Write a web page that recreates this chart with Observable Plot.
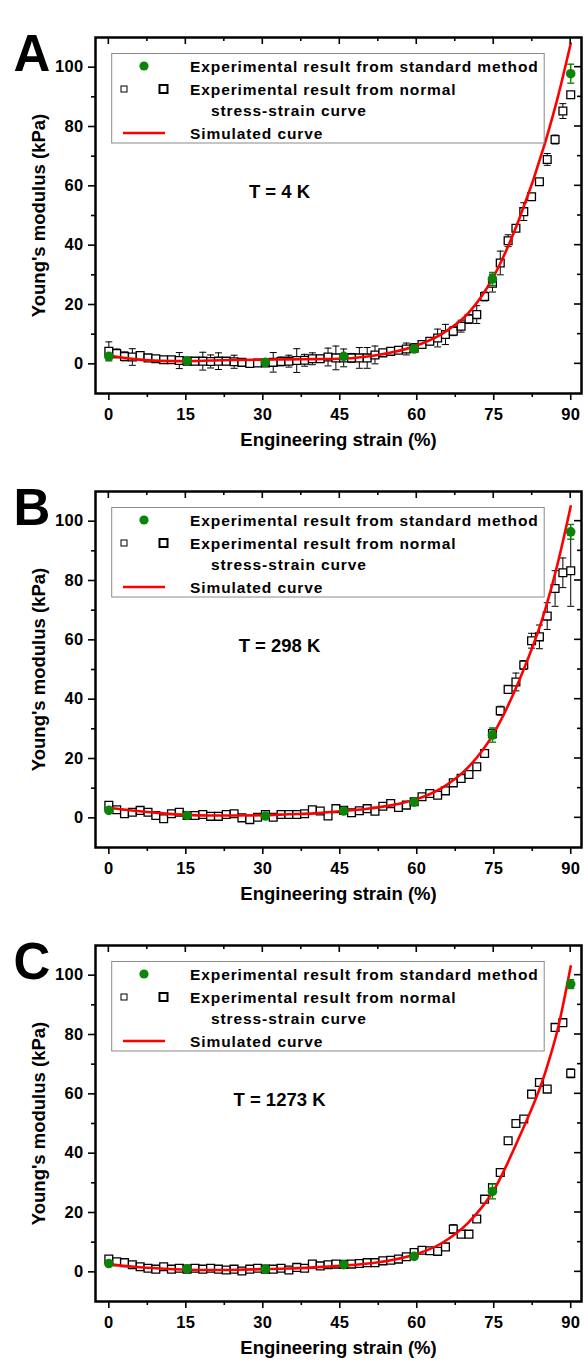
<!DOCTYPE html>
<html>
<head>
<meta charset="utf-8">
<script src="https://cdn.jsdelivr.net/npm/d3@7"></script>
<script src="https://cdn.jsdelivr.net/npm/@observablehq/plot@0.6"></script>
<style>
  html, body { margin: 0; padding: 0; background: white; }
  #charts { width: 584px; }
  #charts svg { display: block; }
  g[aria-label="x-axis tick label"], g[aria-label="y-axis tick label"] { letter-spacing: 0.3px; }
  g[aria-label="xtitle"] { letter-spacing: 1.1px; }
  g[aria-label="ytitle"] { letter-spacing: 1.3px; }
  g[aria-label="temp"] { letter-spacing: 1px; }
</style>
</head>
<body>
<div id="charts"></div>
<script>
// ---------- data ----------
const strain = [0, 1.53, 3.05, 4.58, 6.1, 7.63, 9.15, 10.68, 12.2, 13.73,
  15.25, 16.78, 18.31, 19.83, 21.36, 22.88, 24.41, 25.93, 27.46, 28.98,
  30.51, 32.03, 33.56, 35.08, 36.61, 38.14, 39.66, 41.19, 42.71, 44.24,
  45.76, 47.29, 48.81, 50.34, 51.86, 53.39, 54.92, 56.44, 57.97, 59.49,
  61.02, 62.54, 64.07, 65.59, 67.12, 68.64, 70.17, 71.69, 73.22, 74.75,
  76.27, 77.8, 79.32, 80.85, 82.37, 83.9, 85.42, 86.95, 88.47, 90];

const stdStrain = [0, 15.25, 30.51, 45.76, 59.49, 74.75, 90];
const curveStrain = [0, 5, 10, 15, 20, 25, 30, 35, 40, 45, 50, 55, 60, 65, 70, 75, 80, 85, 87.5, 90];

const xMajorTicks = [0, 15, 30, 45, 60, 75, 90];
const xMinorTicks = [7.5, 22.5, 37.5, 52.5, 67.5, 82.5];
const yMajorTicks = [0, 20, 40, 60, 80, 100];
const yMinorTicks = [10, 30, 50, 70, 90];

const panelLetters = ["A", "B", "C"];
const temperatures = ["T = 4 K", "T = 298 K", "T = 1273 K"];
const legendLabels = ["Experimental result from standard method", "Experimental result from normal", "stress-strain curve", "Simulated curve"];
const xTitle = "Engineering strain (%)";
const yTitle = "Young's modulus (kPa)";

// Panel A (T = 4 K)
const normalA = [4.2, 3.5, 2.5, 2.3, 2.8, 2.0, 1.7, 1.4, 1.4, 1.1,
  0.9, 0.9, 0.9, 0.8, 0.9, 0.9, 0.7, 0.5, 0.1, 0.3,
  0.3, 0.5, 0.8, 0.9, 1.1, 1.2, 1.7, 1.7, 2.3, 2.0,
  2.0, 2.0, 2.0, 2.0, 3.0, 3.7, 4.2, 4.6, 5.0, 5.3,
  6.5, 7.6, 8.7, 9.9, 11.0, 12.7, 15.1, 16.6, 22.7, 27.2,
  34.0, 41.5, 45.7, 51.3, 56.3, 61.4, 68.9, 75.6, 85.2, 90.7];
const normalErrA = [3.2, 1.5, 1.5, 2.8, 1.2, 0.8, 0.8, 0.8, 0.8, 2.7,
  1.0, 1.2, 3.0, 2.2, 2.8, 1.2, 2.2, 1.2, 0.8, 0.8,
  1.0, 3.3, 1.5, 2.0, 4.0, 2.0, 2.0, 1.2, 3.0, 4.0,
  3.0, 1.5, 3.5, 3.5, 3.0, 1.0, 1.0, 1.0, 2.0, 1.5,
  1.2, 1.2, 3.0, 3.4, 1.5, 2.0, 1.5, 3.0, 1.5, 3.0,
  4.0, 2.0, 1.0, 3.0, 1.0, 0.8, 2.0, 1.5, 2.5, 1.0];
const standardA = [2.5, 1.0, 0.5, 2.5, 5.0, 28.6, 97.8];
const standardErrA = [1.0, 0.5, 0.5, 0.5, 0.8, 2.2, 3.2];
const simulatedA = [2.8, 1.6, 1.0, 0.9, 1.1, 1.3, 1.4, 1.5, 1.6, 1.7, 2.4, 3.8, 6.2, 10.2, 17.0, 29.5, 49.0, 74.5, 90.0, 108.0];

// Panel B (T = 298 K)
const normalB = [4.2, 2.7, 1.4, 1.9, 2.5, 1.9, 0.8, -0.3, 1.4, 1.9,
  0.8, 0.8, 1.1, 0.5, 0.5, 1.1, 1.4, 0.0, -0.6, 0.2,
  1.1, 0.2, 1.1, 1.1, 1.1, 1.4, 2.7, 2.3, 0.6, 3.1,
  2.5, 1.7, 2.4, 3.1, 2.2, 3.9, 4.8, 3.5, 4.3, 5.4,
  7.1, 8.2, 7.6, 9.1, 11.8, 13.3, 14.6, 17.2, 21.7, 28.4,
  36.1, 43.3, 45.8, 51.5, 59.7, 61.0, 68.0, 77.3, 82.6, 83.3];
const normalErrB = [0.8, 0.6, 0.5, 0.6, 0.6, 0.5, 0.5, 0.5, 0.6, 0.6,
  0.5, 0.5, 0.5, 0.5, 0.5, 0.6, 0.6, 0.5, 0.5, 0.5,
  0.5, 0.5, 0.5, 0.5, 0.5, 0.5, 0.6, 0.6, 0.5, 0.6,
  0.6, 0.5, 0.5, 0.6, 0.5, 0.6, 0.6, 0.5, 0.6, 0.6,
  0.6, 0.6, 0.6, 0.8, 0.8, 0.8, 0.8, 0.8, 1.0, 1.5,
  1.5, 1.0, 3.0, 1.5, 2.5, 4.0, 4.5, 6.0, 5.0, 12.0];
const standardB = [2.5, 0.8, 0.6, 2.3, 5.3, 27.9, 96.4];
const standardErrB = [0.6, 0.4, 0.4, 0.5, 0.6, 2.4, 2.5];
const simulatedB = [3.4, 2.4, 1.6, 1.0, 0.8, 0.8, 0.9, 1.2, 1.5, 2.2, 3.0, 4.2, 6.3, 10.2, 17.0, 28.5, 46.5, 70.0, 86.0, 105.0];

// Panel C (T = 1273 K)
const normalC = [4.3, 3.4, 3.1, 2.4, 1.7, 1.2, 0.9, 1.7, 0.9, 1.2,
  0.9, 1.2, 0.9, 1.2, 0.9, 0.6, 0.9, 0.3, 0.9, 1.2,
  0.9, 0.9, 1.2, 0.6, 1.5, 1.2, 2.6, 2.0, 2.4, 2.6,
  2.5, 2.6, 2.8, 3.1, 3.1, 3.7, 3.9, 4.3, 5.1, 6.5,
  7.3, 7.1, 6.9, 8.4, 14.4, 12.7, 12.7, 17.8, 24.5, 28.4,
  33.5, 44.2, 50.0, 51.5, 59.9, 63.8, 61.6, 82.4, 84.0, 66.9];
const normalErrC = [0.8, 0.7, 1.0, 0.6, 0.6, 0.5, 0.5, 0.5, 0.5, 0.5,
  0.6, 0.6, 0.6, 1.0, 0.8, 0.6, 0.8, 1.0, 1.0, 0.6,
  0.8, 0.6, 0.6, 0.8, 0.6, 0.6, 0.6, 0.6, 0.8, 0.6,
  0.6, 0.5, 0.5, 0.5, 0.5, 0.6, 0.6, 0.5, 0.6, 0.6,
  0.6, 0.5, 0.8, 0.6, 1.5, 1.0, 0.6, 0.6, 0.6, 1.0,
  0.8, 0.6, 0.6, 1.0, 0.6, 1.0, 0.6, 1.0, 0.6, 1.5];
const standardC = [2.8, 1.0, 0.9, 2.4, 5.2, 27.1, 97.0];
const standardErrC = [0.5, 0.4, 0.4, 0.5, 0.6, 2.5, 1.5];
const simulatedC = [2.6, 1.7, 1.1, 0.7, 0.6, 0.7, 0.9, 1.1, 1.5, 2.0, 2.7, 3.9, 6.0, 9.8, 16.5, 27.5, 45.5, 67.0, 82.0, 103.0];

// ---------- drawing ----------
const FONT = "'Liberation Sans', Arial, Helvetica, sans-serif";
const GREEN = "#0a850a";
const capSymbol = { draw(ctx) { ctx.moveTo(-3.5, 0); ctx.lineTo(3.5, 0); } };

function makePanel(i, normal, normalErr, standard, standardErr, simulated) {
  const sq = strain.map((x, k) => ({ x, y: normal[k], e: normalErr[k] }));
  const std = stdStrain.map((x, k) => ({ x, y: standard[k], e: standardErr[k] }));
  const sim = curveStrain.map((x, k) => ({ x, y: simulated[k] }));

  const W = 584, H = 454, mL = 95, mR = 3, mT = 37, mB = 61;
  const plot = Plot.plot({
    width: W, height: H,
    marginLeft: mL, marginRight: mR, marginTop: mT, marginBottom: mB,
    x: { domain: [-2.6, 92.1] },
    y: { domain: [-10, 110] },
    style: { fontFamily: FONT, fontWeight: "bold", fontSize: "16.5px", color: "black", background: "white", overflow: "visible" },
    marks: [
      Plot.axisX({ ticks: xMajorTicks, tickSize: 7, tickPadding: 8, tickFormat: d => String(d), label: null, strokeWidth: 1.6, fontSize: 16.5 }),
      Plot.axisX({ ticks: xMinorTicks, tickSize: 4, tickFormat: () => "", label: null, strokeWidth: 1.6 }),
      Plot.axisY({ ticks: yMajorTicks, tickSize: 7, tickPadding: 5, tickFormat: d => String(d), label: null, strokeWidth: 1.6, fontSize: 16.5 }),
      Plot.axisY({ ticks: yMinorTicks, tickSize: 4, tickFormat: () => "", label: null, strokeWidth: 1.6 }),
      // normal stress-strain squares with error bars
      Plot.ruleX(sq, { x: "x", y1: d => d.y - d.e, y2: d => d.y + d.e, stroke: "black", strokeWidth: 1 }),
      Plot.dot(sq, { x: "x", y: d => d.y - d.e, symbol: capSymbol, stroke: "black", strokeWidth: 1, fill: "none", r: 3 }),
      Plot.dot(sq, { x: "x", y: d => d.y + d.e, symbol: capSymbol, stroke: "black", strokeWidth: 1, fill: "none", r: 3 }),
      Plot.dot(sq, { x: "x", y: "y", symbol: "square", r: 4.4, fill: "white", stroke: "black", strokeWidth: 1.3 }),
      // simulated curve
      Plot.line(sim, { x: "x", y: "y", stroke: "#ff0000", strokeWidth: 2.6, curve: "monotone-x" }),
      // standard method
      Plot.ruleX(std, { x: "x", y1: d => d.y - d.e, y2: d => d.y + d.e, stroke: GREEN, strokeWidth: 1.4 }),
      Plot.dot(std, { x: "x", y: d => d.y - d.e, symbol: capSymbol, stroke: GREEN, strokeWidth: 1.4, fill: "none", r: 3 }),
      Plot.dot(std, { x: "x", y: d => d.y + d.e, symbol: capSymbol, stroke: GREEN, strokeWidth: 1.4, fill: "none", r: 3 }),
      Plot.dot(std, { x: "x", y: "y", r: 4.8, fill: GREEN, stroke: "none" }),
      Plot.frame({ stroke: "black", strokeWidth: 2.5 }),
      // texts
      Plot.text([xTitle], { text: d => d, frameAnchor: "bottom", dy: 52, fontSize: 18.5, textAnchor: "middle", ariaLabel: "xtitle" }),
      Plot.text([yTitle], { text: d => d, frameAnchor: "left", rotate: -90, dx: -56, fontSize: 18.5, textAnchor: "middle", ariaLabel: "ytitle" }),
      Plot.text([temperatures[i]], { text: d => d, frameAnchor: "top-left", dx: 184, dy: 147, textAnchor: "middle", fontSize: 18.5, ariaLabel: "temp" }),
      Plot.text([panelLetters[i]], { text: d => d, frameAnchor: "top-left", dx: -82, dy: -3, textAnchor: "start", fontSize: 51, ariaLabel: "letter" })
    ]
  });

  const svg = d3.select(plot);
  const xs = plot.scale("x"), ys = plot.scale("y");
  const L = mL, R = W - mR, T = mT;
  const tk = svg.append("g").attr("stroke", "black").attr("stroke-width", 1.6);
  // top inward ticks
  xMajorTicks.forEach(v => tk.append("line").attr("x1", xs.apply(v)).attr("x2", xs.apply(v)).attr("y1", T).attr("y2", T + 7));
  xMinorTicks.forEach(v => tk.append("line").attr("x1", xs.apply(v)).attr("x2", xs.apply(v)).attr("y1", T).attr("y2", T + 4));
  // right inward ticks
  yMajorTicks.forEach(v => tk.append("line").attr("y1", ys.apply(v)).attr("y2", ys.apply(v)).attr("x1", R).attr("x2", R - 7));
  yMinorTicks.forEach(v => tk.append("line").attr("y1", ys.apply(v)).attr("y2", ys.apply(v)).attr("x1", R).attr("x2", R - 4));

  // legend
  const g = svg.append("g").attr("font-family", FONT).attr("font-weight", "bold")
    .attr("font-size", 15.5).attr("letter-spacing", "0.9px").attr("fill", "black").attr("text-anchor", "start");
  g.append("rect").attr("x", L + 16.7).attr("y", T + 16.5).attr("width", 432.5).attr("height", 89.5)
    .attr("fill", "none").attr("stroke", "#8a8a8a").attr("stroke-width", 1);
  const rows = [T + 29, T + 52, T + 73, T + 96];
  g.append("circle").attr("cx", L + 49).attr("cy", rows[0]).attr("r", 4.6).attr("fill", GREEN);
  g.append("rect").attr("x", L + 26).attr("y", rows[1] - 3).attr("width", 6).attr("height", 6)
    .attr("fill", "white").attr("stroke", "black").attr("stroke-width", 1);
  g.append("rect").attr("x", L + 64.5).attr("y", rows[1] - 4).attr("width", 8).attr("height", 8)
    .attr("fill", "white").attr("stroke", "black").attr("stroke-width", 2);
  g.append("line").attr("x1", L + 28).attr("x2", L + 70).attr("y1", rows[3]).attr("y2", rows[3])
    .attr("stroke", "#ff0000").attr("stroke-width", 2.6);
  const tx = [L + 95, L + 95, L + 116, L + 95];
  legendLabels.forEach((t, k) => g.append("text").attr("x", tx[k]).attr("y", rows[k]).attr("dy", "0.36em").attr("text-anchor", "start").text(t));

  document.getElementById("charts").appendChild(plot);
}

makePanel(0, normalA, normalErrA, standardA, standardErrA, simulatedA);
makePanel(1, normalB, normalErrB, standardB, standardErrB, simulatedB);
makePanel(2, normalC, normalErrC, standardC, standardErrC, simulatedC);
</script>
</body>
</html>
